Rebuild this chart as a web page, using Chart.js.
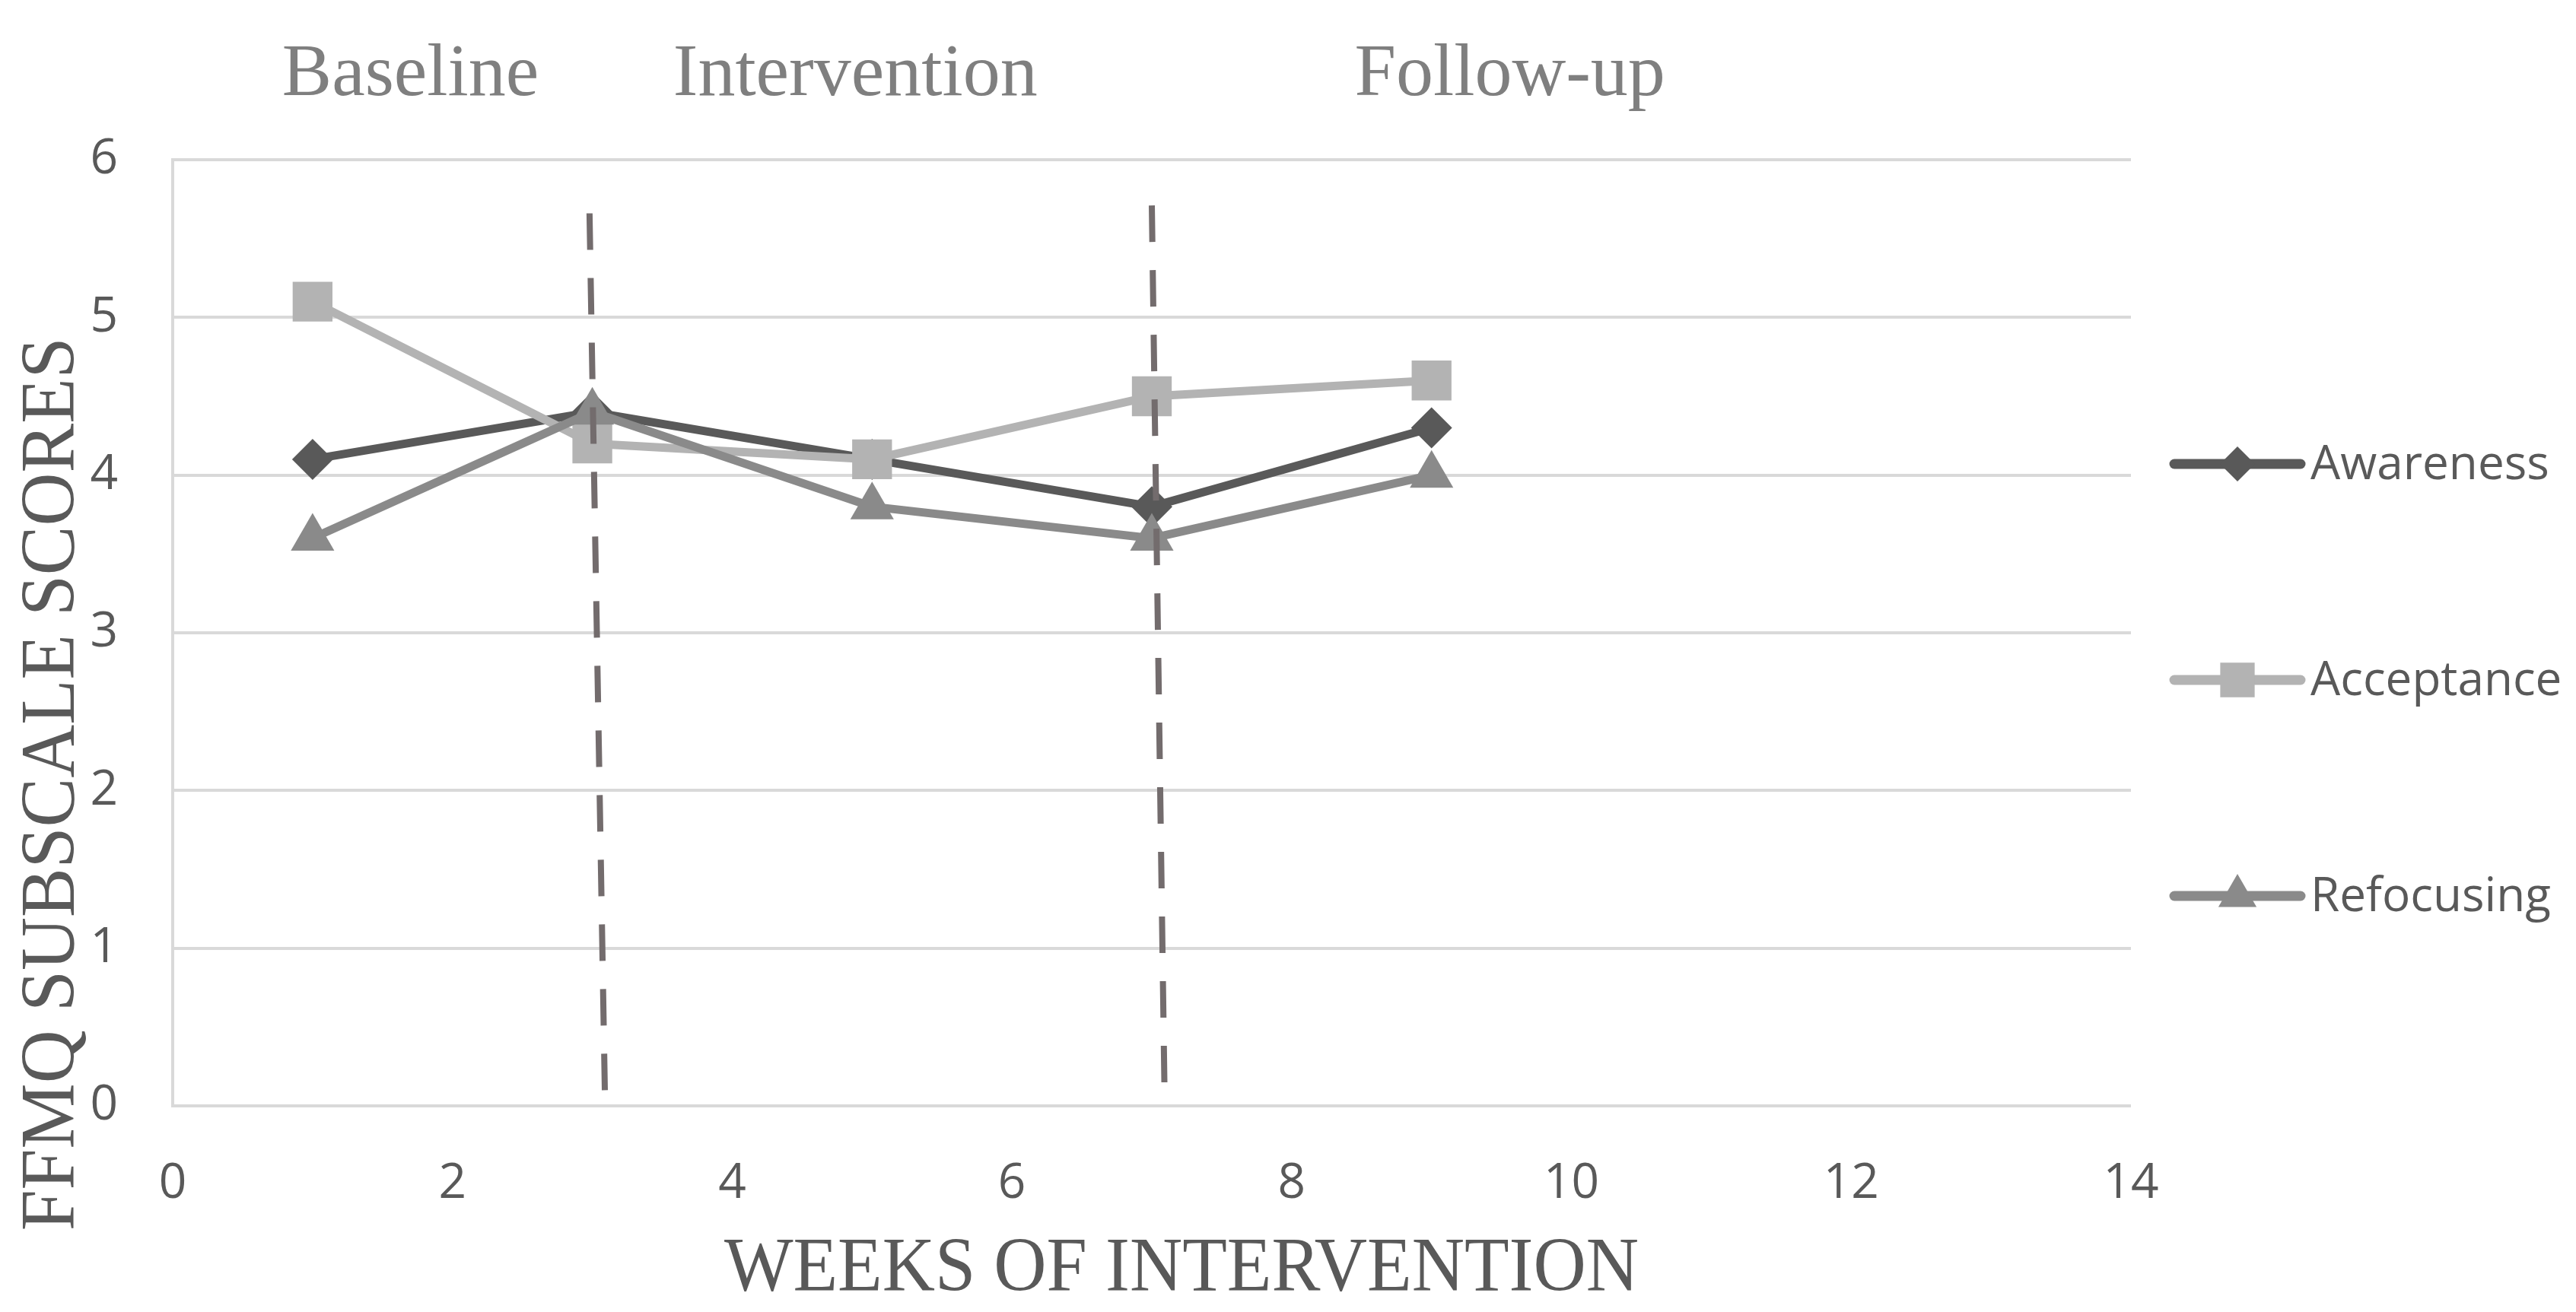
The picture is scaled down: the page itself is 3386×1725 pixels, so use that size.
<!DOCTYPE html>
<html lang="en">
<head>
    <meta charset="UTF-8">
    <title>FFMQ subscale scores</title>
    <script src="https://cdn.jsdelivr.net/npm/chart.js"></script>
    <style>
        html, body { margin: 0; padding: 0; background: #fff; }
        canvas { display: block; }
    </style>
</head>
<body>
<canvas id="ffmqChart" width="3386" height="1725"></canvas>

<script>
    // data
    const weeks = [1, 3, 5, 7, 9];
    const awareness = [4.1, 4.4, 4.1, 3.8, 4.3];
    const acceptance = [5.1, 4.2, 4.1, 4.5, 4.6];
    const refocusing = [3.6, 4.4, 3.8, 3.6, 4.0];

    const seriesNames = ['Awareness', 'Acceptance', 'Refocusing'];
    const yTicks = [0, 1, 2, 3, 4, 5, 6];
    const xTicks = [0, 2, 4, 6, 8, 10, 12, 14];

    // phase dividers (hand drawn, slightly slanted) and phase labels
    const divider1X = [2.98, 3.09];
    const divider1Y = [5.66, 0.07];
    const divider2X = [7.0, 7.09];
    const divider2Y = [5.71, 0.13];
    const phaseNames = ['Baseline', 'Intervention', 'Follow-up'];
    const phaseLabelX = [1.7, 4.88, 9.56];

    const xTitle = 'WEEKS OF INTERVENTION';
    const yTitle = 'FFMQ SUBSCALE SCORES';

    const colors = ['#595959', '#b3b3b3', '#8a8a8a'];
    const pointStyles = ['rectRot', 'rect', 'triangle'];
    const pointRadii = [27, 37, 33];
    const legendRadii = [23, 32, 29];

    const toPoints = (xs, ys) => xs.map((x, i) => ({x: x, y: ys[i]}));

    const seriesDataset = (idx, values) => ({
        label: seriesNames[idx],
        data: toPoints(weeks, values),
        borderColor: colors[idx],
        backgroundColor: colors[idx],
        borderWidth: 11,
        tension: 0,
        pointStyle: pointStyles[idx],
        pointRadius: pointRadii[idx],
        pointHoverRadius: pointRadii[idx],
        pointBorderWidth: 0,
        pointBackgroundColor: colors[idx],
        order: 3 - idx
    });

    const dividerDataset = (xs, ys) => ({
        label: 'divider',
        data: toPoints(xs, ys),
        borderColor: '#736c6d',
        borderWidth: 8,
        borderDash: [48, 37],
        pointRadius: 0,
        pointHoverRadius: 0,
        order: 0
    });

    const annotations = {
        id: 'annotations',
        afterDraw(chart) {
            const {ctx, chartArea: a, scales: {x}} = chart;
            ctx.save();

            // phase labels above the plot
            ctx.fillStyle = '#7f7f7f';
            ctx.font = '98px "Liberation Serif"';
            ctx.textAlign = 'center';
            ctx.textBaseline = 'alphabetic';
            phaseNames.forEach((name, i) => {
                ctx.fillText(name, x.getPixelForValue(phaseLabelX[i]), a.top - 85);
            });

            // axis titles
            ctx.fillStyle = '#595959';
            ctx.font = '101px "Liberation Serif"';
            ctx.save();
            ctx.translate((a.left + a.right) / 2 + 39, a.bottom + 243);
            ctx.scale(0.95, 1);
            ctx.fillText(xTitle, 0, 0);
            ctx.restore();

            ctx.save();
            ctx.translate(97, a.top + 821);
            ctx.rotate(-Math.PI / 2);
            ctx.scale(0.96, 1);
            ctx.fillText(yTitle, 0, 0);
            ctx.restore();

            // legend: line with marker, then name
            seriesNames.forEach((name, i) => {
                const y = a.top + 400 + i * 284;
                ctx.strokeStyle = colors[i];
                ctx.lineWidth = 13;
                ctx.lineCap = 'round';
                ctx.beginPath();
                ctx.moveTo(a.right + 57, y);
                ctx.lineTo(a.right + 223, y);
                ctx.stroke();
                ctx.fillStyle = colors[i];
                Chart.helpers.drawPoint(ctx, {pointStyle: pointStyles[i], radius: legendRadii[i], rotation: 0, borderWidth: 0}, a.right + 140, y);
                ctx.fillStyle = '#595959';
                ctx.font = '62px "Open Sans"';
                ctx.textAlign = 'left';
                ctx.textBaseline = 'middle';
                ctx.fillText(name, a.right + 236, y + 2);
            });

            ctx.restore();
        }
    };

    const ctx = document.getElementById('ffmqChart').getContext('2d');
    const ffmqChart = new Chart(ctx, {
        type: 'line',
        data: {
            datasets: [
                dividerDataset(divider1X, divider1Y),
                dividerDataset(divider2X, divider2Y),
                seriesDataset(0, awareness),
                seriesDataset(1, acceptance),
                seriesDataset(2, refocusing)
            ]
        },
        options: {
            responsive: false,
            animation: false,
            devicePixelRatio: 1,
            layout: {
                padding: {left: 0, right: 585, top: 210, bottom: 0}
            },
            plugins: {
                legend: {display: false},
                tooltip: {enabled: false}
            },
            scales: {
                x: {
                    type: 'linear',
                    min: xTicks[0],
                    max: xTicks[xTicks.length - 1],
                    afterBuildTicks: (scale) => { scale.ticks = xTicks.map(v => ({value: v})); },
                    afterFit: (scale) => { scale.height = 271; },
                    grid: {display: false},
                    border: {display: false},
                    ticks: {
                        padding: 56,
                        color: '#595959',
                        font: {family: '"Open Sans"', size: 64}
                    }
                },
                y: {
                    min: yTicks[0],
                    max: yTicks[yTicks.length - 1],
                    afterBuildTicks: (scale) => { scale.ticks = yTicks.map(v => ({value: v})); },
                    afterFit: (scale) => { scale.width = 227; },
                    grid: {color: '#d9d9d9', lineWidth: 4, drawTicks: false},
                    border: {display: true, color: '#d9d9d9', width: 4},
                    ticks: {
                        padding: 72,
                        color: '#595959',
                        font: {family: '"Open Sans"', size: 64}
                    }
                }
            }
        },
        plugins: [annotations]
    });
</script>
</body>
</html>
